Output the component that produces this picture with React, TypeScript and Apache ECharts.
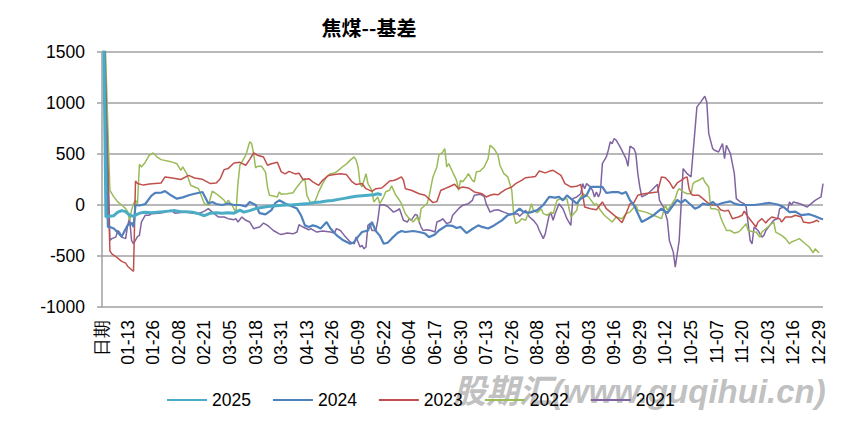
import React, { useEffect, useRef } from "react";
import * as echarts from "echarts";

// Category labels: header cell followed by every calendar day of a leap year
const firstCategory = "日期";
const monthLengths = [31, 29, 31, 30, 31, 30, 31, 31, 30, 31, 30, 31];
const pad = (n: number) => (n < 10 ? "0" + n : "" + n);
const dayLabels: string[] = [];
monthLengths.forEach((len, m) => {
  for (let d = 1; d <= len; d++) dayLabels.push(pad(m + 1) + "-" + pad(d));
});
const categories = [firstCategory, ...dayLabels];

const seriesNames = ["2025", "2024", "2023", "2022", "2021"];
const yTicks = { min: -1000, max: 1500, interval: 500 };

// [category index, value]
const s2025: [number, number][] = [
  [0, 3000], [2, -118], [4, -110], [6, -105], [8, -70], [10, -55], [12, -65], [14, -100], [16, -110], [18, -90],
  [20, -75], [22, -70], [25, -75], [28, -70], [31, -65], [34, -60], [37, -55], [40, -65], [43, -65], [46, -70],
  [49, -85], [52, -105], [55, -80], [58, -75], [61, -80], [64, -75], [67, -80], [70, -50], [72, -70], [75, -55],
  [78, -35], [81, -25], [84, -15], [87, -10], [90, -5], [93, 0], [96, 0], [99, 5], [102, 10], [105, 15],
  [108, 25], [111, 30], [114, 40], [117, 45], [120, 55], [123, 65], [126, 75], [129, 85], [132, 90], [135, 95],
  [138, 100], [140, 110], [142, 100],
];

const s2024: [number, number][] = [
  [0, 2800], [3, -216], [4, -215], [6, -230], [8, -270], [10, -310], [12, -235], [13, -200], [15, -175], [16, -215],
  [17, 0], [19, -5], [22, 10], [25, 90], [27, 118], [30, 120], [32, 137], [35, 95], [38, 62], [41, 75],
  [44, 95], [47, 110], [51, 127], [54, 15], [56, 30], [58, 10], [61, 0], [64, 15], [67, 0], [70, 0],
  [73, -15], [75, 30], [78, 0], [80, -80], [83, -92], [86, -50], [88, 20], [90, 46], [93, 15], [96, -10],
  [99, -35], [101, -100], [103, -200], [105, -215], [107, -200], [109, -210], [111, -230], [114, -167], [116, -230], [119, -295],
  [122, -340], [126, -380], [128, -365], [130, -310], [132, -265], [135, -250], [137, -167], [139, -255], [141, -300], [143, -380],
  [145, -370], [147, -330], [150, -275], [152, -255], [154, -265], [158, -255], [161, -265], [164, -280], [166, -315], [169, -290],
  [171, -250], [175, -200], [178, -205], [180, -225], [182, -215], [185, -275], [188, -235], [191, -200], [193, -215], [196, -230],
  [199, -200], [203, -150], [206, -100], [209, -85], [212, -36], [214, -70], [217, -75], [221, -50], [224, 0], [227, 80],
  [230, 72], [232, 80], [234, 46], [236, 95], [238, 62], [241, 13], [243, 62], [246, 95], [248, 177], [251, 177],
  [254, 177], [256, 118], [259, 127], [262, 127], [264, 110], [266, 127], [268, 46], [270, 0], [274, -167], [277, -135],
  [280, -100], [284, -36], [287, -80], [290, 0], [292, 50], [294, 20], [296, 52], [299, 0], [301, -36], [303, -20],
  [305, 13], [308, 0], [310, 30], [312, 0], [315, 20], [319, 36], [321, 13], [324, 0], [327, 0], [331, 0],
  [335, 10], [339, 20], [343, 5], [346, -20], [349, -70], [352, -65], [355, -100], [359, -90], [362, -110], [365, -135],
  [366, -140],
];

const s2023: [number, number][] = [
  [0, 2600], [4, -450], [5, -480], [7, -505], [10, -553], [12, -570], [13, -600], [15, -635], [16, -650], [17, 235],
  [18, 210], [21, 195], [24, 205], [30, 216], [32, 275], [35, 268], [40, 250], [44, 290], [47, 265], [51, 252],
  [55, 210], [58, 216], [60, 258], [62, 347], [64, 357], [67, 412], [70, 418], [73, 390], [75, 448], [77, 510],
  [79, 488], [82, 470], [84, 390], [86, 405], [89, 420], [91, 325], [93, 305], [95, 330], [98, 305], [100, 312],
  [102, 250], [105, 258], [107, 226], [110, 193], [112, 242], [115, 290], [118, 298], [121, 307], [124, 300], [127, 226],
  [129, 200], [132, 210], [134, 160], [137, 134], [139, 160], [142, 167], [144, 200], [146, 235], [148, 240], [150, 255],
  [152, 275], [153, 245], [154, 160], [157, 145], [161, 110], [164, 95], [166, 60], [168, 23], [170, 35], [172, 145],
  [174, 160], [176, 177], [179, 203], [181, 160], [183, 177], [186, 167], [189, 128], [193, 110], [195, 79], [197, 95],
  [199, 105], [201, 100], [203, 128], [205, 153], [208, 177], [210, 210], [213, 242], [215, 268], [218, 275], [220, 280],
  [222, 334], [225, 315], [227, 330], [229, 340], [231, 315], [233, 290], [235, 210], [238, 177], [241, 183], [243, 203],
  [244, 110], [245, -20], [248, -36], [251, -46], [254, 30], [256, -36], [259, -85], [262, -134], [264, -174], [266, -85],
  [268, 13], [270, 23], [272, 95], [275, 110], [278, 118], [282, 128], [284, 275], [286, 268], [288, 226], [290, 160],
  [292, 216], [294, 242], [296, 268], [297, 275], [298, 160], [299, 110], [300, 95], [303, 95], [305, 62], [308, 13],
  [310, 0], [312, 0], [314, -46], [316, -60], [318, -52], [320, -134], [323, -118], [325, -100], [326, -60], [328, -118],
  [330, -167], [332, -216], [333, -167], [335, -134], [337, -177], [338, -150], [340, -118], [342, -127], [344, -134], [345, -167],
  [347, -118], [350, -118], [352, -100], [355, -118], [356, -167], [359, -177], [361, -167], [363, -150], [364, -167],
];

const s2022: [number, number][] = [
  [0, 2600], [4, 144], [6, 80], [8, 30], [10, 0], [12, -35], [13, -65], [14, -150], [15, -50], [16, 13],
  [17, 46], [18, 10], [19, 400], [20, 373], [22, 420], [24, 488], [26, 510], [28, 470], [30, 445], [35, 425],
  [38, 405], [40, 340], [41, 373], [43, 308], [45, 193], [47, 177], [49, 160], [52, 13], [54, -3], [56, 137],
  [58, 110], [60, 80], [62, 46], [63, 13], [64, 46], [66, 0], [68, -75], [69, 210], [70, 390], [72, 455],
  [73, 488], [75, 620], [76, 600], [77, 500], [78, 363], [79, 380], [81, 380], [83, 323], [84, 177], [85, 95],
  [87, 88], [89, 79], [90, 128], [91, 105], [94, 110], [97, 120], [99, 177], [101, 226], [103, 258], [104, 95],
  [106, 13], [108, 30], [110, 128], [112, 210], [114, 275], [116, 307], [118, 313], [120, 340], [122, 373], [124, 400],
  [126, 440], [128, 471], [129, 440], [130, 373], [131, 210], [132, 177], [134, 307], [135, 210], [137, 144], [138, 30],
  [140, 80], [141, 13], [143, 80], [144, 130], [146, 144], [147, 187], [149, 100], [151, 46], [152, 13], [154, -85],
  [156, -134], [158, -167], [160, -118], [161, -167], [162, -36], [163, -20], [165, 13], [166, 80], [167, 177], [168, 275],
  [170, 373], [171, 488], [173, 520], [174, 553], [175, 373], [176, 405], [178, 323], [180, 242], [181, 144], [182, 242],
  [183, 226], [185, 275], [186, 307], [188, 242], [189, 226], [190, 323], [192, 333], [194, 373], [196, 455], [197, 586],
  [199, 553], [201, 488], [202, 390], [204, 307], [206, 275], [208, 144], [209, -100], [210, -183], [212, -160], [213, -134],
  [215, -150], [217, -52], [218, 13], [219, -52], [221, -75], [223, -36], [224, -85], [226, -100], [228, -70], [229, -85],
  [231, 46], [233, 62], [236, 62], [238, -118], [241, -52], [242, 46], [244, 110], [247, 80], [250, 0], [251, 13],
  [253, -52], [255, -100], [259, -167], [261, -118], [264, -134], [266, -85], [268, -70], [271, 0], [272, -52], [276, -70],
  [280, -100], [284, -134], [286, 0], [287, -52], [289, 0], [291, 62], [292, 128], [293, 160], [295, 128], [297, 110],
  [299, 110], [300, 210], [301, 226], [303, 242], [305, 268], [306, 226], [308, 177], [309, -36], [311, -36], [313, -52],
  [314, -118], [315, -167], [317, -250], [319, -250], [321, -275], [323, -265], [324, -250], [327, -183], [328, -250], [331, -265],
  [332, -265], [334, -315], [335, -265], [338, -216], [341, -167], [342, -265], [345, -298], [347, -330], [349, -380], [350, -363],
  [352, -347], [354, -330], [356, -363], [357, -380], [359, -412], [361, -468], [362, -430], [364, -468],
];

const s2021: [number, number][] = [
  [0, 2700], [4, -347], [5, -330], [7, -315], [8, -250], [9, -270], [10, -315], [12, -330], [13, -200], [14, -130],
  [15, -347], [16, -380], [18, -310], [19, -298], [20, -167], [22, -100], [24, -100], [25, -85], [29, -80], [32, -70],
  [35, -52], [37, -80], [41, -70], [43, -70], [46, -80], [49, -85], [52, -60], [54, -36], [56, -70], [57, -85],
  [59, -118], [62, -118], [64, -134], [67, -144], [68, -134], [69, -167], [71, -118], [73, -150], [75, -167], [77, -232],
  [80, -216], [82, -177], [84, -200], [85, -216], [87, -250], [90, -283], [91, -290], [94, -275], [97, -283], [99, -265],
  [100, -193], [102, -216], [105, -243], [106, -232], [109, -265], [112, -255], [116, -265], [118, -275], [119, -232], [121, -250],
  [123, -298], [126, -363], [128, -380], [129, -314], [130, -363], [131, -412], [132, -396], [133, -429], [134, -412], [135, -200],
  [136, -183], [137, -250], [139, -250], [140, -150], [141, 0], [143, 3], [145, -15], [148, -70], [150, -52], [151, -36],
  [153, -150], [155, -167], [156, -134], [157, -150], [159, -92], [160, -100], [161, -167], [162, -216], [163, -250], [165, -243],
  [167, -250], [169, -265], [170, -167], [172, -150], [173, -134], [175, -183], [177, -167], [178, -100], [181, -36], [183, -3],
  [186, 13], [188, 46], [189, 95], [192, 105], [194, 85], [195, 13], [197, -70], [199, -52], [201, -46], [204, -70],
  [206, -85], [209, -92], [211, -85], [212, -110], [215, -52], [217, -118], [219, -150], [221, -200], [222, -250], [224, -330],
  [225, -283], [227, -100], [228, -85], [229, -150], [230, -85], [232, 13], [234, -36], [236, -134], [238, -200], [239, 62],
  [241, 79], [243, 110], [244, 210], [245, 160], [246, 210], [247, 193], [249, 144], [250, 79], [251, 128], [252, 79],
  [253, 128], [254, 406], [256, 471], [257, 537], [258, 619], [259, 602], [260, 652], [261, 635], [263, 570], [266, 455],
  [267, 380], [268, 576], [270, 553], [271, 504], [272, 307], [273, 177], [274, 79], [277, 110], [279, 144], [282, 203],
  [283, 46], [285, -20], [287, -150], [288, -347], [290, -462], [291, -609], [293, -347], [295, 357], [297, 307], [299, 275],
  [300, 504], [302, 962], [304, 1011], [306, 1067], [307, 1011], [308, 700], [310, 553], [311, 537], [313, 520], [315, 602],
  [316, 455], [317, 586], [319, 504], [321, 307], [322, 62], [324, 30], [326, 13], [327, -20], [329, -347], [330, -380],
  [331, -216], [332, -232], [333, -250], [335, -315], [336, -298], [337, -250], [339, -200], [341, -150], [343, -134], [344, -36],
  [346, -20], [348, -52], [349, 30], [350, 0], [351, 30], [353, 20], [355, 7], [358, -20], [360, 13], [362, 46],
  [365, 79], [366, 210],
];

const seriesData = [s2025, s2024, s2023, s2022, s2021];
const colors = ["#4BACC6", "#4F81BD", "#C0504D", "#9BBB59", "#8064A2"];
const widths = [3, 2.2, 1.5, 1.5, 1.5];

export default function App() {
  const ref = useRef<HTMLDivElement>(null);
  useEffect(() => {
    if (!ref.current) return;
    const chart = echarts.init(ref.current, undefined, { renderer: "svg" });
    const font = "'Liberation Sans', Arial, sans-serif";
    chart.setOption({
      animation: false,
      backgroundColor: "#ffffff",
      grid: { left: 102, right: 28, top: 52, bottom: 114, containLabel: false },
      graphic: [
        {
          type: "text",
          x: 369,
          y: 27,
          z: 10,
          style: {
            text: "焦煤--基差",
            fontSize: 20,
            fontWeight: "bold",
            fontFamily: "'Noto Sans CJK SC', sans-serif",
            fill: "#000",
            textAlign: "center",
            textVerticalAlign: "middle",
          },
        },
        {
          type: "text",
          x: 453,
          y: 391,
          z: 0,
          style: {
            text: "股期汇(www.guqihui.cn)",
            fontSize: 33,
            fontWeight: "bold",
            fontStyle: "italic",
            fontFamily: "'Liberation Sans', 'Noto Sans CJK SC', sans-serif",
            fill: "rgba(185,185,185,0.9)",
            textAlign: "left",
            textVerticalAlign: "middle",
          },
        },
      ],
      legend: {
        left: 161,
        top: 386,
        itemWidth: 40,
        itemHeight: 14,
        itemGap: 21,
        itemStyle: { opacity: 0 },
        textStyle: { fontSize: 17.5, fontFamily: font, color: "#000" },
        data: seriesNames,
      },
      xAxis: {
        type: "category",
        data: categories,
        boundaryGap: false,
        axisLine: { show: false, onZero: false },
        axisTick: { show: false },
        splitLine: { show: false },
        axisLabel: {
          interval: 12,
          rotate: 90,
          margin: 13,
          fontSize: 17.5,
          fontFamily: font,
          color: "#000",
        },
      },
      yAxis: {
        type: "value",
        min: yTicks.min,
        max: yTicks.max,
        interval: yTicks.interval,
        axisLine: { show: true, lineStyle: { color: "#a0a0a0", width: 1.5 } },
        axisTick: { show: true, length: 5, lineStyle: { color: "#a0a0a0", width: 1.5 } },
        splitLine: { show: true, lineStyle: { color: "#a0a0a0", width: 1.5 } },
        axisLabel: {
          margin: 17,
          fontSize: 17.5,
          fontFamily: font,
          color: "#000",
          formatter: (v: number) => String(v),
        },
      },
      series: seriesNames.map((name, i) => ({
        name,
        type: "line",
        data: seriesData[i],
        symbol: "none",
        showSymbol: false,
        clip: true,
        z: 10 - i,
        lineStyle: { color: colors[i], width: widths[i] },
        itemStyle: { color: colors[i] },
      })),
    });
    return () => chart.dispose();
  }, []);
  return (
    <div
      ref={ref}
      style={{ position: "fixed", left: 0, top: 0, width: 851, height: 421 }}
    />
  );
}
